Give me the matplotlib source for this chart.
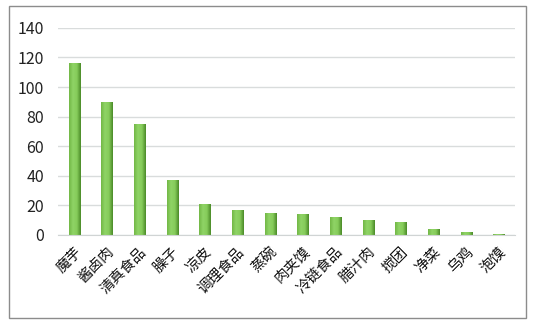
import matplotlib
matplotlib.use("Agg")
import matplotlib.pyplot as plt
import numpy as np
from matplotlib.patches import Rectangle

plt.rcParams['font.family'] = ['Noto Sans CJK SC', 'DejaVu Sans']

# data
foods = ['魔芋', '酱卤肉', '清真食品', '臊子', '凉皮', '调理食品', '蒸碗',
         '肉夹馍', '冷链食品', '腊汁肉', '搅团', '净菜', '乌鸡', '泡馍']
counts = [116, 90, 75, 37, 21, 17, 15, 14, 12, 10, 9, 4, 2, 0.8]
yticks = [0, 20, 40, 60, 80, 100, 120, 140]

fig = plt.figure(figsize=(5.36, 3.24), dpi=100)
ax = fig.add_axes([0.108, 0.275, 0.853, 0.639])

x = np.arange(len(foods))
bars = ax.bar(x, counts, width=0.34, color='#7fc256', zorder=3)

# horizontal gradient on each bar (light left, darker right)
grad = np.linspace(0, 1, 64).reshape(1, -1)
cmap = matplotlib.colors.LinearSegmentedColormap.from_list(
    'g', ['#72b846', '#8fd366', '#86cc5a', '#4a8a28'])
for b in bars:
    x0, w, h = b.get_x(), b.get_width(), b.get_height()
    im = ax.imshow(grad, cmap=cmap, aspect='auto', extent=(x0, x0 + w, 0, h),
                   zorder=4)
    im.set_clip_path(b)
    b.set_facecolor('none')

ax.set_xlim(-0.5, len(foods) - 0.5)
ax.set_ylim(0, 140)
ax.set_yticks(yticks)
ax.set_yticklabels([str(t) for t in yticks], fontsize=11.5, color='#222222')
ax.set_xticks(x)
ax.set_xticklabels(foods, rotation=45, ha='right', rotation_mode='anchor',
                   fontsize=10.5, color='#111111')
ax.tick_params(axis='both', length=0)
ax.tick_params(axis='x', pad=7)
ax.tick_params(axis='y', pad=10)

ax.grid(axis='y', color='#d9dcdc', linewidth=1.0, zorder=0)
for s in ['top', 'right', 'left']:
    ax.spines[s].set_visible(False)
ax.spines['bottom'].set_color('#d0d4d4')
ax.spines['bottom'].set_zorder(5)

# outer chart border
fig.patches.append(Rectangle((0.016, 0.02), 0.966, 0.962, transform=fig.transFigure,
                             fill=False, edgecolor='#8c8c8c', linewidth=1.0))

fig.savefig('out.png', dpi=100)
